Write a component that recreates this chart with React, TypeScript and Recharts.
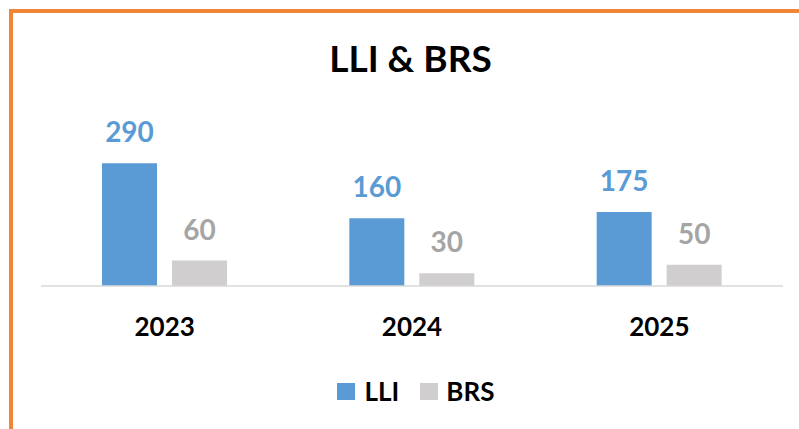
import { BarChart, Bar, XAxis, YAxis, Legend, LabelList } from 'recharts';

const years = ['2023', '2024', '2025'];
const lliValues = [290, 160, 175];
const brsValues = [60, 30, 50];

const LLI_COLOR = '#5B9BD5';
const BRS_COLOR = '#D0CECE';
const FONT = 'Lato, "Open Sans", sans-serif';

const data = years.map((year, i) => ({ year, LLI: lliValues[i], BRS: brsValues[i] }));

const LegendContent = () => (
  <div style={{ display: 'flex', justifyContent: 'center', alignItems: 'center', fontFamily: FONT, fontWeight: 700, fontSize: 26, color: '#000' }}>
    <span style={{ width: 18, height: 17, background: LLI_COLOR, display: 'inline-block', marginRight: 10 }} />
    <span style={{ marginRight: 21 }}>LLI</span>
    <span style={{ width: 18, height: 17, background: BRS_COLOR, display: 'inline-block', marginRight: 8 }} />
    <span>BRS</span>
  </div>
);

export default function App() {
  return (
    <div style={{ position: 'absolute', left: 0, top: 0, width: 799, height: 429, background: '#fff', overflow: 'hidden' }}>
      {/* orange frame, only top and left edges are visible */}
      <div style={{ position: 'absolute', left: 9, top: 9, width: 800, height: 430, borderTop: '4px solid #F08535', borderLeft: '4px solid #F08535' }} />
      <div style={{ position: 'absolute', left: 0, top: 35, width: 821, textAlign: 'center', fontFamily: FONT, fontWeight: 700, fontSize: 37, color: '#000' }}>
        LLI &amp; BRS
      </div>
      <div style={{ position: 'absolute', left: 0, top: 0 }}>
        <BarChart width={799} height={429} data={data} margin={{ top: 159, right: 16, left: 41, bottom: 83 }} barGap={15} barSize={55}>
          <XAxis
            dataKey="year"
            height={60}
            axisLine={{ stroke: '#D9D9D9', strokeWidth: 1.5 }}
            tickLine={false}
            tickSize={0}
            tickMargin={32}
            tick={{ fill: '#000', fontFamily: FONT, fontWeight: 700, fontSize: 26 }}
          />
          <YAxis hide domain={[0, 300]} />
          <Legend verticalAlign="middle" align="center" wrapperStyle={{ top: 375, left: 16, width: 799 }} content={<LegendContent />} />
          <Bar dataKey="LLI" fill={LLI_COLOR} isAnimationActive={false}>
            <LabelList dataKey="LLI" position="top" offset={21} fill={LLI_COLOR} style={{ fontFamily: FONT, fontWeight: 700, fontSize: 28 }} />
          </Bar>
          <Bar dataKey="BRS" fill={BRS_COLOR} isAnimationActive={false}>
            <LabelList dataKey="BRS" position="top" offset={21} fill="#A5A5A5" style={{ fontFamily: FONT, fontWeight: 700, fontSize: 28 }} />
          </Bar>
        </BarChart>
      </div>
    </div>
  );
}
